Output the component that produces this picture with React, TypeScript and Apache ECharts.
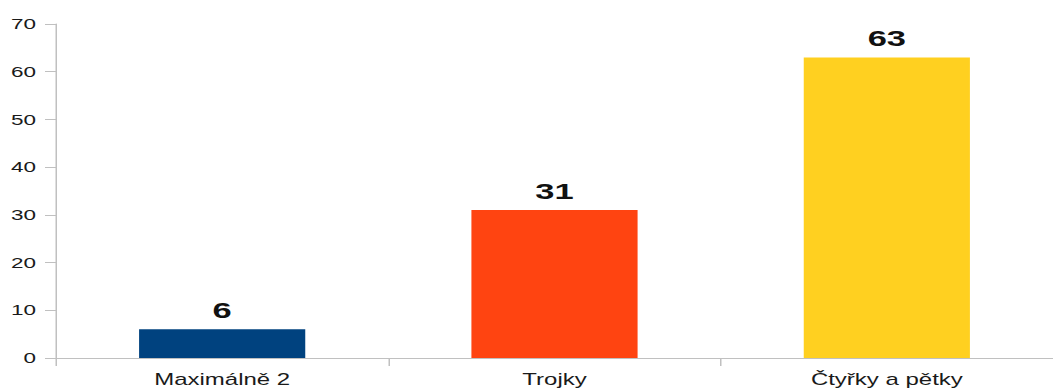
import React, { useEffect, useRef } from "react";
import * as echarts from "echarts";

const categories = ["Maximálně 2", "Trojky", "Čtyřky a pětky"];
const values = [6, 31, 63];
const colors = ["#00427f", "#ff4411", "#ffd020"];
const yTicks = { min: 0, max: 70, interval: 10 };

// The reference is drawn horizontally stretched; draw at 1/S width and stretch by S.
const S = 1.5;
const W = 1053;
const H = 390;

export default function App() {
  const ref = useRef<HTMLDivElement>(null);
  useEffect(() => {
    const chart = echarts.init(ref.current!, null, { renderer: "svg" });
    const font = "Liberation Sans, Arial, sans-serif";
    chart.setOption({
      animation: false,
      grid: { left: 56 / S, right: -9 / S, top: 24, bottom: 32, containLabel: false },
      xAxis: {
        type: "category",
        data: categories,
        axisLine: { lineStyle: { color: "#c0c0c0", width: 1 } },
        axisTick: { show: true, alignWithLabel: false, length: 8, lineStyle: { color: "#c0c0c0" } },
        axisLabel: {
          color: "#1a1a1a",
          fontFamily: font,
          fontSize: 16,
          margin: 14,
        },
      },
      yAxis: {
        type: "value",
        min: yTicks.min,
        max: yTicks.max,
        interval: yTicks.interval,
        splitLine: { show: false },
        axisLine: { show: true, lineStyle: { color: "#c0c0c0", width: 1 } },
        axisTick: { show: true, length: 11 / S, lineStyle: { color: "#c0c0c0" } },
        axisLabel: {
          color: "#1a1a1a",
          fontFamily: font,
          fontSize: 15,
          margin: 20 / S,
        },
      },
      series: [
        {
          type: "bar",
          barWidth: "50%",
          data: values.map((v, i) => ({ value: v, itemStyle: { color: colors[i] } })),
          label: {
            show: true,
            position: "top",
            distance: 8,
            color: "#111",
            fontFamily: font,
            fontWeight: "bold",
            fontSize: 23,
          },
        },
      ],
    });
    return () => chart.dispose();
  }, []);
  return (
    <div
      style={{
        position: "fixed",
        left: 0,
        top: 0,
        width: W,
        height: H,
        overflow: "hidden",
        background: "#fff",
      }}
    >
      <div
        ref={ref}
        style={{
          width: W / S,
          height: H,
          transform: `scaleX(${S})`,
          transformOrigin: "left top",
        }}
      />
    </div>
  );
}
